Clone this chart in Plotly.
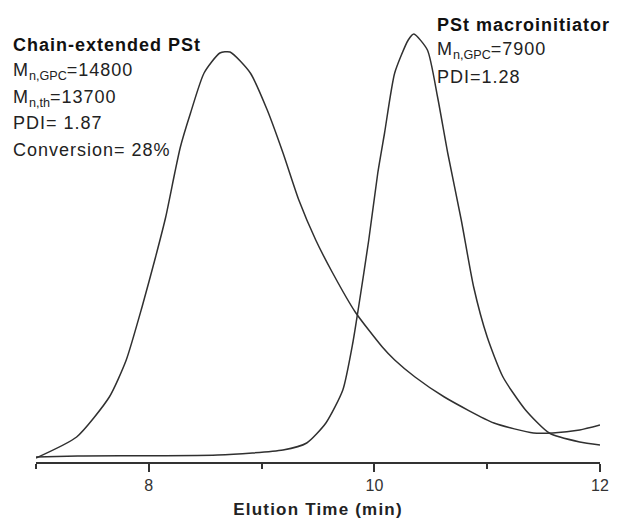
import plotly.graph_objects as go

# Chain-extended PSt trace (elution time in min, RI signal height, arbitrary units)
chain_t = [7.00, 7.36, 7.65, 7.80, 7.94, 8.06, 8.15, 8.23, 8.28, 8.37, 8.49, 8.63, 8.72,
           8.90, 9.05, 9.19, 9.33, 9.48, 9.63, 9.83, 10.07, 10.18, 10.36, 10.62, 11.06,
           11.41, 11.58, 11.82, 12.00]
chain_h = [4, 25, 65, 102, 155, 205, 245, 289, 315, 349, 389, 409, 410,
           389, 352, 309, 262, 222, 189, 150, 115, 102, 85, 65, 39,
           29, 29, 32, 37]

# PSt macroinitiator trace
macro_t = [7.00, 7.37, 8.61, 9.19, 9.40, 9.57, 9.72, 9.81, 9.86, 9.95, 10.03, 10.09,
           10.18, 10.30, 10.35, 10.47, 10.56, 10.65, 10.77, 10.88, 11.00, 11.14, 11.34,
           11.55, 11.82, 12.00]
macro_h = [5, 6, 7, 12, 19, 39, 72, 120, 155, 222, 289, 329,
           389, 422, 428, 412, 365, 309, 242, 175, 125, 85, 52,
           29, 20, 17]

tick_major = [8, 10, 12]
tick_major_text = ["8", "10", "12"]
tick_minor = [7, 9, 11]

# page has an 8px body margin, so the figure is drawn 8px smaller and offset
OFF = 8
W, H = 619 - OFF, 526 - OFF
ML, MR, MT, MB = 28, 11, 10, 64
PW, PH = W - ML - MR, H - MT - MB


def px(x_page):
    return (x_page - OFF - ML) / PW


def py(y_page):
    return (H - MB - (y_page - OFF)) / PH


FAM = "Liberation Sans, Arial, sans-serif"
line_style = dict(color="#303030", width=1.5, shape="spline", smoothing=0.6)

fig = go.Figure()
fig.add_trace(go.Scatter(x=chain_t, y=chain_h, mode="lines", line=line_style,
                         name="Chain-extended PSt", showlegend=False))
fig.add_trace(go.Scatter(x=macro_t, y=macro_h, mode="lines", line=line_style,
                         name="PSt macroinitiator", showlegend=False))

font_reg = dict(family=FAM, size=18, color="#222222")
font_bold = dict(family=FAM, size=18, color="#111111")


def sp(txt, ls=1):
    return '<span style="letter-spacing:%spx">%s</span>' % (ls, txt)


left_lines = [
    (sp("<b>Chain-extended PSt</b>"), 45, font_bold),
    (sp("M") + "<sub>n,GPC</sub>" + sp("=14800"), 71, font_reg),
    (sp("M") + "<sub>n,th</sub>" + sp("=13700"), 98, font_reg),
    (sp("PDI= 1.87"), 123, font_reg),
    (sp("Conversion= 28%"), 150, font_reg),
]
right_lines = [
    (sp("<b>PSt macroinitiator</b>"), 25, font_bold),
    (sp("M") + "<sub>n,GPC</sub>" + sp("=7900"), 50, font_reg),
    (sp("PDI=1.28"), 77, font_reg),
]

annotations = []
for txt, yy, f in left_lines:
    annotations.append(dict(text=txt, x=px(11), y=py(yy), xref="paper", yref="paper",
                            xanchor="left", yanchor="middle", showarrow=False, font=f))
for txt, yy, f in right_lines:
    annotations.append(dict(text=txt, x=px(441), y=py(yy), xref="paper", yref="paper",
                            xanchor="left", yanchor="middle", showarrow=False, font=f))

fig.update_layout(
    width=W, height=H,
    margin=dict(l=ML, r=MR, t=MT, b=MB),
    paper_bgcolor="white", plot_bgcolor="white",
    annotations=annotations,
    xaxis=dict(
        range=[7, 12], tickmode="array", tickvals=tick_major, ticktext=tick_major_text,
        ticks="outside", ticklen=8, tickwidth=1.5, tickcolor="#333333",
        minor=dict(tickmode="array", tickvals=tick_minor, ticks="outside", ticklen=5,
                   tickwidth=1.5, tickcolor="#333333", showgrid=False),
        showline=True, linecolor="#333333", linewidth=1.5, showgrid=False, zeroline=False,
        tickfont=dict(family=FAM, size=16, color="#333333"),
        title=dict(text=sp("<b>Elution Time (min)</b>", 1.2), standoff=10,
                   font=dict(family=FAM, size=17, color="#222222")),
    ),
    yaxis=dict(range=[0, PH], visible=False, showgrid=False, zeroline=False),
)

fig.write_html("out.html")
